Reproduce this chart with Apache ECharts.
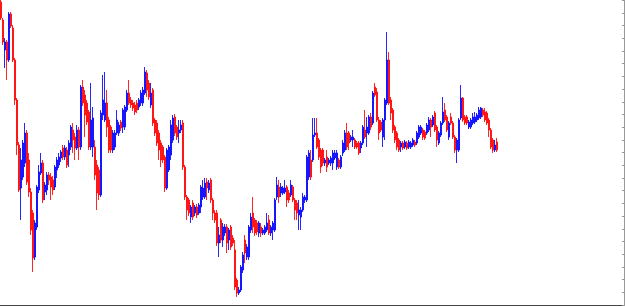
<!DOCTYPE html>
<html>
<head>
<meta charset="utf-8">
<script src="https://cdn.jsdelivr.net/npm/echarts@6/dist/echarts.min.js"></script>
<style>
  html, body { margin: 0; padding: 0; background: #fff; }
  #chart { width: 625px; height: 307px; }
</style>
</head>
<body>
<div id="chart"></div>
<script>
// bar values, one entry per bar (left to right)
var opens = [
  303,285,255,263,245,291,277,245,205,160,
  117,128,142,172,145,113,92,48,78,115,
  132,142,113,115,130,128,125,118,135,140,
  147,157,148,155,150,158,175,168,157,175,
  158,218,210,202,193,158,158,158,140,135,
  110,190,185,202,185,178,155,158,172,172,
  183,178,178,195,212,205,202,200,202,198,
  202,202,212,232,222,200,215,185,182,172,
  162,158,148,117,135,150,165,188,178,172,
  175,182,138,108,105,88,102,92,98,92,
  98,108,108,123,115,125,105,92,92,62,
  85,65,72,78,65,78,67,55,25,12,
  15,35,65,48,48,75,92,85,82,72,
  78,72,72,75,85,72,75,75,108,118,
  112,112,113,118,112,110,118,105,102,90,
  88,95,105,105,128,145,145,170,172,165,
  155,155,142,148,142,142,142,147,138,145,
  138,152,155,172,172,165,165,165,162,162,
  157,162,175,172,172,188,182,218,213,185,
  183,168,185,202,245,205,195,178,172,165,
  158,162,158,162,158,158,160,163,162,168,
  172,175,173,172,175,185,180,192,178,162,
  170,182,195,188,168,188,182,168,155,155,
  187,207,188,188,178,178,182,183,185,187,
  188,195,193,192,185,175,165,155,163
];
var closes = [
  287,263,263,245,291,279,245,205,160,115,
  145,162,172,123,113,75,47,82,118,133,
  142,105,120,130,125,118,115,138,145,148,
  153,148,157,140,162,178,165,157,175,158,
  218,202,190,183,158,185,187,130,112,110,
  192,205,202,178,155,155,172,172,185,180,
  177,195,198,212,202,200,197,193,195,205,
  212,215,233,215,208,212,182,172,162,155,
  145,145,117,155,158,180,187,172,168,175,
  180,138,108,95,92,98,88,98,90,100,
  118,117,122,117,122,105,92,85,62,70,
  65,78,78,62,75,58,62,18,12,15,
  38,50,52,58,78,88,78,72,73,82,
  72,75,78,82,72,78,82,105,120,108,
  118,117,117,105,105,120,105,95,92,95,
  95,108,108,148,152,128,170,172,158,148,
  138,142,145,138,145,147,152,152,152,138,
  148,162,172,158,162,168,168,158,158,152,
  162,178,168,178,188,178,212,210,185,172,
  175,185,205,245,202,192,175,165,158,155,
  162,157,163,157,163,162,165,160,172,178,
  178,168,167,180,185,178,188,175,165,172,
  182,193,185,175,182,182,168,155,165,185,
  207,185,182,182,183,185,188,188,190,195,
  197,190,185,182,175,158,155,160,155
];
var lows = [
  285,260,237,225,243,277,243,200,150,113,
  85,125,138,120,108,70,33,45,75,112,
  130,102,105,110,120,105,110,115,127,137,
  143,145,145,137,138,155,152,145,155,145,
  155,199,168,180,155,155,148,125,95,105,
  108,185,183,168,152,152,152,155,170,169,
  174,172,175,193,200,197,194,190,192,195,
  199,199,210,208,205,197,179,169,159,145,
  138,142,113,115,133,145,162,169,165,162,
  172,135,105,85,89,82,85,89,87,90,
  92,105,106,105,112,102,85,82,59,48,
  62,58,69,52,55,55,59,15,8,10,
  13,32,42,45,45,72,72,69,70,68,
  68,70,70,73,70,69,65,73,105,102,
  108,110,111,98,102,108,103,85,85,75,
  75,93,102,103,125,125,143,168,156,145,
  132,139,139,133,140,139,135,145,135,136,
  136,149,153,155,155,163,158,156,156,150,
  152,160,166,158,170,175,180,208,183,165,
  173,158,165,200,200,185,172,162,155,153,
  153,155,156,155,156,156,158,158,160,166,
  170,165,165,170,173,168,178,173,158,160,
  168,180,183,173,165,180,166,152,142,153,
  185,183,180,180,176,176,180,181,183,185,
  186,188,183,180,168,156,152,153,153
];
var highs = [
  305,287,267,265,293,293,280,247,207,163,
  157,165,182,175,152,117,95,85,120,140,
  152,145,123,133,133,132,129,140,148,152,
  155,160,160,158,165,180,182,172,180,178,
  220,225,215,205,195,222,198,165,145,138,
  195,230,233,215,188,180,175,175,195,183,
  185,197,200,215,225,208,205,203,205,207,
  215,218,238,235,225,222,217,187,185,175,
  165,160,150,157,160,185,190,191,180,185,
  185,185,140,110,107,100,105,100,101,102,
  120,125,127,127,125,127,107,95,95,78,
  87,82,81,81,77,80,70,65,27,18,
  40,53,70,61,80,92,108,87,85,84,
  82,77,80,92,90,80,84,107,128,125,
  122,119,125,120,115,125,120,107,105,105,
  98,112,110,150,155,155,187,187,187,167,
  157,157,147,155,147,149,155,155,155,147,
  150,165,175,182,174,170,175,167,164,164,
  164,180,195,188,190,192,214,222,217,188,
  185,187,207,273,253,208,197,180,174,167,
  164,164,165,164,165,164,167,165,174,180,
  180,177,175,182,188,187,190,194,180,174,
  184,208,202,190,184,192,184,170,167,187,
  220,208,190,190,185,187,192,193,192,198,
  198,197,197,194,187,177,167,165,167
];
// the chart keeps empty room on the right, so the time axis runs on past the last bar
var slotCount = 312;

var bars = [];
for (var i = 0; i < slotCount; i++) {
  bars.push(i);
}
var candles = [];
for (var j = 0; j < opens.length; j++) {
  candles.push([opens[j], closes[j], lows[j], highs[j]]);
}

var chart = echarts.init(document.getElementById('chart'));
var option = {
  animation: false,
  backgroundColor: '#ffffff',
  grid: { left: 0, right: 1, top: 0, bottom: 2 },
  xAxis: {
    type: 'category',
    data: bars,
    boundaryGap: true,
    axisLine: { show: true, lineStyle: { color: '#444', width: 1 } },
    axisTick: { show: false },
    axisLabel: { show: false },
    splitLine: { show: false }
  },
  yAxis: {
    type: 'value',
    position: 'right',
    min: 0,
    max: 305,
    interval: 12.7,
    axisLine: { show: true, lineStyle: { color: '#999' } },
    axisTick: { show: true, inside: true, length: 2, lineStyle: { color: '#999' } },
    axisLabel: { show: false },
    splitLine: { show: false }
  },
  series: [{
    type: 'candlestick',
    data: candles,
    barWidth: 1.6,
    itemStyle: {
      color: '#0000ff',
      color0: '#ff0000',
      borderColor: '#0000ff',
      borderColor0: '#ff0000',
      borderWidth: 1,
      opacity: 0.85
    }
  }]
};
chart.setOption(option);
</script>
</body>
</html>
